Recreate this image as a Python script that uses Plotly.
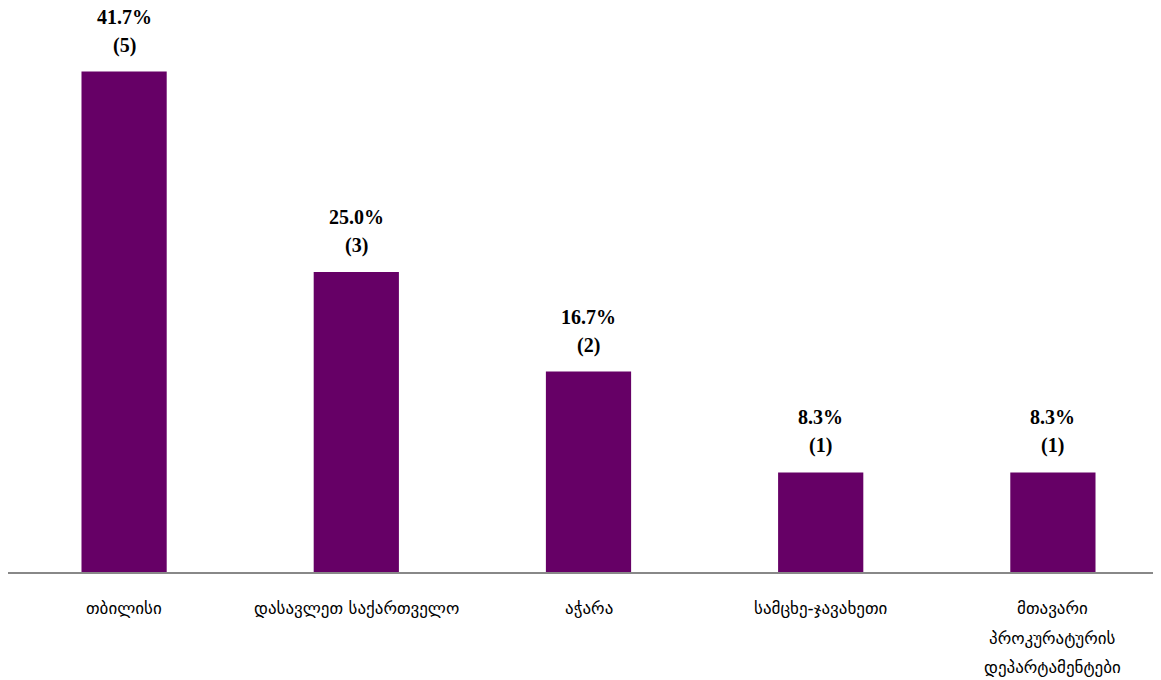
import plotly.graph_objects as go

categories = ["თბილისი", "დასავლეთ საქართველო", "აჭარა", "სამცხე-ჯავახეთი",
              "მთავარი პროკურატურის დეპარტამენტები"]
category_lines = [["თბილისი"], ["დასავლეთ საქართველო"], ["აჭარა"], ["სამცხე-ჯავახეთი"],
                  ["მთავარი", "პროკურატურის", "დეპარტამენტები"]]
percents = [41.7, 25.0, 16.7, 8.3, 8.3]
counts = [5, 3, 2, 1, 1]

BAR = "#660066"
fig = go.Figure()
fig.add_trace(go.Bar(x=categories, y=percents, marker=dict(color=BAR, line=dict(width=0)),
                     hoverinfo="skip"))

for c, p, n in zip(categories, percents, counts):
    fig.add_annotation(x=c, y=p, text=f"<b>{p:.1f}%</b>", showarrow=False,
                       yanchor="bottom", yshift=42,
                       font=dict(family="Liberation Serif", size=20, color="#000"))
    fig.add_annotation(x=c, y=p, text=f"<b>({n})</b>", showarrow=False,
                       yanchor="bottom", yshift=13,
                       font=dict(family="Liberation Serif", size=20, color="#000"))

for c, lines in zip(categories, category_lines):
    for i, line in enumerate(lines):
        fig.add_annotation(x=c, y=0, text=line, showarrow=False,
                           yanchor="middle", yshift=-36 - i * 29.5,
                           font=dict(family="DejaVu Sans", size=17, color="#000"))

fig.update_layout(
    width=1161, height=680,
    margin=dict(l=0, r=0, t=0, b=116),
    paper_bgcolor="white", plot_bgcolor="white",
    bargap=0.633, showlegend=False,
    xaxis=dict(showline=True, linecolor="#888888", linewidth=2, showgrid=False,
               showticklabels=False, ticks=""),
    yaxis=dict(range=[0, 47.0], visible=False, showgrid=False),
)
fig.write_html("out.html")
